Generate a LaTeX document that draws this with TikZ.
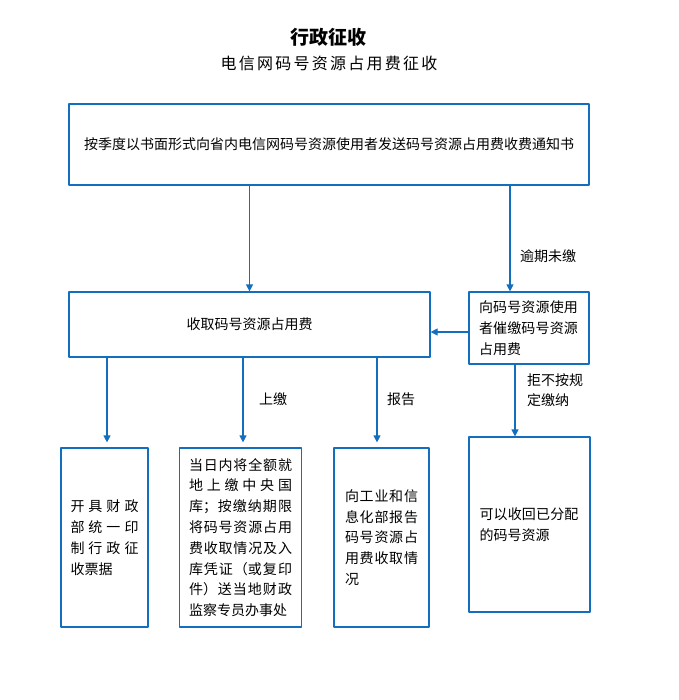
\documentclass[tikz,border=0pt]{standalone}
\usepackage{fontspec}
\setmainfont{Noto Sans CJK SC}
\newfontfamily\subtitlefont[LetterSpace=14]{Noto Sans CJK SC}
\usetikzlibrary{arrows.meta}
\XeTeXlinebreaklocale "zh"
\XeTeXlinebreakskip=0pt plus 4pt
\tolerance=10000
\hbadness=10000
\setlength{\parindent}{0pt}
\definecolor{lineblue}{RGB}{20,110,190}

\begin{document}
\begin{tikzpicture}[x=1pt, y=-1pt, line cap=round, line join=round,
    flowbox/.style={draw=lineblue, line width=1.2pt, rectangle, inner sep=0pt,
      font=\fontsize{14}{20.8}\selectfont},
    arr/.style={draw=lineblue, line width=1.2pt, -{Triangle[length=7pt,width=7pt]}},
    lbl/.style={inner sep=0pt, font=\fontsize{14}{20}\selectfont}]
    \useasboundingbox (0,0) rectangle (678,700);

    % Titles
    \node[font=\fontsize{19}{20}\selectfont\bfseries] (title) at (328,37) {行政征收};
    \node[font=\subtitlefont\fontsize{16}{20}\selectfont] (subtitle) at (329,63) {电信网码号资源占用费征收};

    % Nodes
    \node[flowbox, minimum width=520, minimum height=81, font=\fontsize{14}{16}\selectfont] (notice) at (329,144.5)
        {按季度以书面形式向省内电信网码号资源使用者发送码号资源占用费收费通知书};
    \node[flowbox, minimum width=361, minimum height=65] (collect) at (249.5,324.5) {收取码号资源占用费};
    \node[flowbox, minimum width=120, minimum height=72, text width=100pt, align=left] (remind) at (529,328)
        {向码号资源使用者催缴码号资源占用费};
    \node[flowbox, minimum width=87, minimum height=179, text width=68pt, align=justify] (invoice) at (104.5,537.5)
        {开具财政部统一印制行政征收票据};
    \node[flowbox, minimum width=122, minimum height=179, text width=103pt, align=justify] (treasury) at (240.5,537.5)
        {当日内将全额就\linebreak 地上缴中央国\linebreak 库；按缴纳期限将码号资源占用费收取情况及入库凭证（或复印件）送当地财政监察专员办事处};
    \node[flowbox, minimum width=95, minimum height=179, text width=73pt, align=justify] (report) at (381.5,537.5)
        {向工业和信息化部报告码号资源占用费收取情况};
    \node[flowbox, minimum width=121, minimum height=175, text width=100pt, align=left] (revoke) at (529.5,524.5)
        {可以收回已分配的码号资源};

    % Connections
    \draw[arr] (collect.north |- notice.south) -- (collect.north);
    \draw[arr] ([xshift=181pt]notice.south) -- ([xshift=-19pt]remind.north);
    \draw[arr] ([yshift=-4pt]remind.west) -- ([yshift=-7.5pt]collect.east);
    \draw[arr, shorten >=5pt] ([xshift=-142.5pt]collect.south) -- ([xshift=2.5pt]invoice.north);
    \draw[arr, shorten >=5pt] ([xshift=-6.5pt]collect.south) -- ([xshift=2.5pt]treasury.north);
    \draw[arr, shorten >=5pt] ([xshift=127.5pt]collect.south) -- ([xshift=-4.5pt]report.north);
    \draw[arr] ([xshift=-14pt]remind.south) -- ([xshift=-14.5pt]revoke.north);

    % Labels
    \node[lbl] (overdue) at (548,256) {逾期未缴};
    \node[lbl] (handin) at (273,399) {上缴};
    \node[lbl] (tell) at (401,399) {报告};
    \node[lbl, align=left, anchor=west] (refuse) at (527,390) {拒不按规\\定缴纳};
\end{tikzpicture}
\end{document}
